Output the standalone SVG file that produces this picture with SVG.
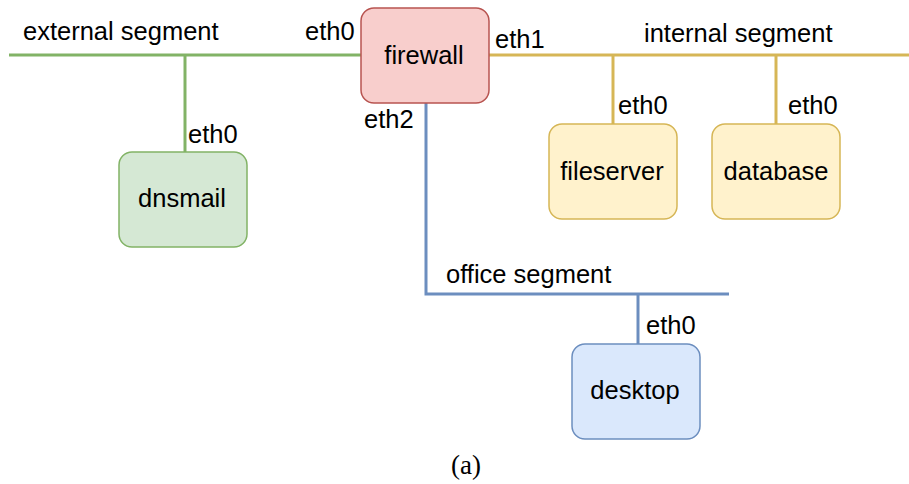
<svg xmlns="http://www.w3.org/2000/svg" width="909" height="484" viewBox="0 0 909 484">
<style>
.t{font-family:"Liberation Sans",Arial,Helvetica,sans-serif;font-size:25.5px;fill:#000}
.c{text-anchor:middle}
.ln{fill:none;stroke-width:3}
.g{stroke:#82b366}.y{stroke:#d6b656}.b{stroke:#6c8ebf}
.box{stroke-width:1.5}
</style>
<rect width="909" height="484" fill="#fff"/>
<g id="connectors">
<line class="ln g" x1="9" y1="55" x2="361" y2="55"/>
<line class="ln g" x1="185" y1="55" x2="185" y2="152"/>
<line class="ln y" x1="489" y1="55" x2="909" y2="55"/>
<line class="ln y" x1="613" y1="55" x2="613" y2="124"/>
<line class="ln y" x1="776" y1="55" x2="776" y2="124"/>
<polyline class="ln b" points="426,103 426,294 729,294"/>
<line class="ln b" x1="638" y1="294" x2="638" y2="344"/>
</g>
<g id="labels">
<text class="t" x="23" y="40">external segment</text>
<text class="t" x="305" y="40">eth0</text>
<text class="t" x="495" y="48">eth1</text>
<text class="t" x="644" y="42">internal segment</text>
<text class="t" x="364" y="128">eth2</text>
<text class="t" x="188" y="143">eth0</text>
<text class="t" x="618" y="114">eth0</text>
<text class="t" x="788" y="114">eth0</text>
<text class="t" x="446" y="283">office segment</text>
<text class="t" x="646" y="334">eth0</text>
</g>
<g id="firewall">
<rect class="box" x="361" y="8" width="128" height="95" rx="13" fill="#f8cecc" stroke="#b85450"/>
<text class="t c" x="424" y="64">firewall</text>
</g>
<g id="dnsmail">
<rect class="box" x="119" y="152" width="128" height="95" rx="13" fill="#d5e8d4" stroke="#82b366"/>
<text class="t c" x="182" y="207">dnsmail</text>
</g>
<g id="fileserver">
<rect class="box" x="549" y="124" width="128" height="95" rx="13" fill="#fff2cc" stroke="#d6b656"/>
<text class="t c" x="612" y="180">fileserver</text>
</g>
<g id="database">
<rect class="box" x="712" y="124" width="128" height="95" rx="13" fill="#fff2cc" stroke="#d6b656"/>
<text class="t c" x="776" y="180">database</text>
</g>
<g id="desktop">
<rect class="box" x="572" y="344" width="128" height="95" rx="13" fill="#dae8fc" stroke="#6c8ebf"/>
<text class="t c" x="635" y="399">desktop</text>
</g>
<text x="466" y="474" font-family="'Liberation Serif','Times New Roman',serif" font-size="27" text-anchor="middle">(a)</text>
</svg>
